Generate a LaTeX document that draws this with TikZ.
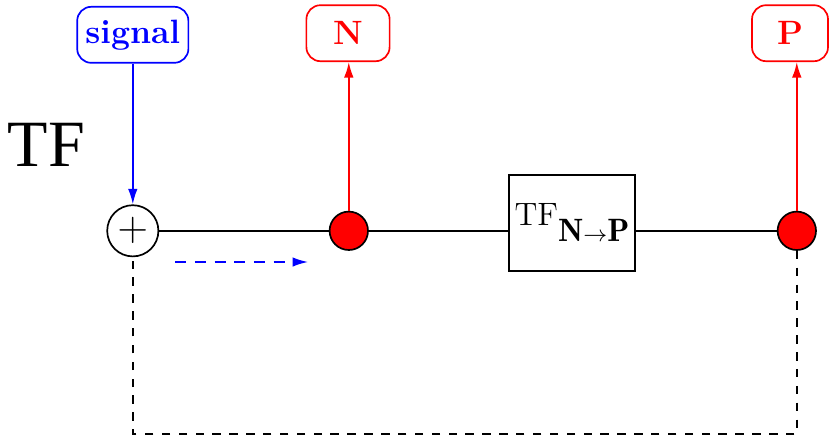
\documentclass[tikz,border=0pt]{standalone}
\usepackage{amsmath, amssymb}
\usepackage{fontspec}
\newfontfamily\timesfont{Liberation Serif}
\usepackage{tikz}
\usetikzlibrary{shapes,arrows,arrows.meta,positioning,calc}

\begin{document}
\begin{tikzpicture}[
    semithick,
    label/.style={rectangle, draw, rounded corners=5pt, minimum height=0.7cm, inner xsep=2pt, align=center, font=\large\bfseries},
    tfbox/.style={rectangle, draw, minimum width=1.575cm, minimum height=1.2cm, inner xsep=1pt, align=center, font=\fontsize{11.5}{14}\selectfont},
    sum/.style={circle, draw, minimum size=0.64cm, inner sep=0pt, fill=white},
    dot/.style={circle, draw, fill=red, minimum size=0.48cm, inner sep=0pt},
    arrow/.style={-{Latex[length=5.5pt, width=3.4pt]}}
]
\useasboundingbox (0,0) rectangle (10.3625,5.475);

% Input
\node[font=\timesfont\fontsize{23.5}{28}\selectfont] (tf) at (0.58,3.66) {TF};
\node[label, blue, minimum width=1.39cm] (signal) at (1.66,5.04) {signal};
\node[sum] (sum) at (1.66,2.59) {\Large$+$};

% Outputs
\node[dot] (ndot) at (4.36,2.59) {};
\node[tfbox] (tfnp) at (7.15,2.69) {TF\raisebox{-5.8pt}{$\mathbf{N}{\scriptstyle\rightarrow}\mathbf{P}$}};
\node[dot] (pdot) at (9.96,2.59) {};
\node[label, red, minimum width=1.04cm] (nbox) at (4.35,5.06) {N};
\node[label, red, minimum width=0.95cm] (pbox) at (9.875,5.06) {P};

% Free ends
\coordinate (flowa) at (2.19,2.2);
\coordinate (flowb) at (3.85,2.2);
\coordinate (loopy) at (0,0.05);

% Main line
\draw (sum) -- (ndot);
\draw (ndot) -- (ndot -| tfnp.west);
\draw (pdot -| tfnp.east) -- (pdot);

% Arrows
\draw[arrow, blue] (signal) -- (sum);
\draw[arrow, red] (ndot) -- (ndot |- nbox.south);
\draw[arrow, red] (pdot) -- (pdot |- pbox.south);
\draw[arrow, blue, dash pattern=on 4pt off 3pt] (flowa) -- (flowb);

% Feedback
\draw[dashed] (pdot) -- (pdot |- loopy) -- (sum |- loopy) -- (sum);

\end{tikzpicture}
\end{document}
